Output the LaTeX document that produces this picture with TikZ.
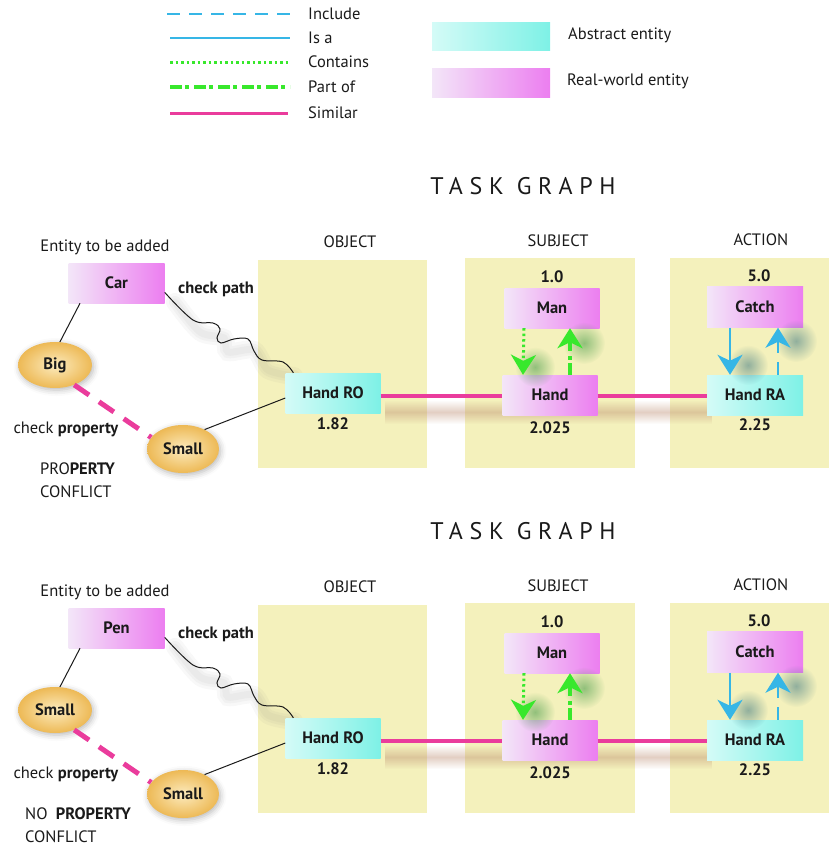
\documentclass[tikz,border=0pt]{standalone}
\usepackage{fontspec}
\setmainfont{PT Sans}
\usetikzlibrary{arrows.meta,shapes.geometric,shadows.blur,fadings}

\definecolor{ink}{HTML}{1A1A1A}
\definecolor{panelbg}{HTML}{F4F1BC}
\definecolor{cyanL}{HTML}{D4FBF7}
\definecolor{cyanR}{HTML}{7EF1E6}
\definecolor{magL}{HTML}{F3E6F8}
\definecolor{magR}{HTML}{EC7EF0}
\definecolor{propIn}{HTML}{FCEBBE}
\definecolor{propOut}{HTML}{EDB955}
\definecolor{cgreen}{HTML}{38E82C}
\definecolor{cblue}{HTML}{36B6E6}
\definecolor{cmag}{HTML}{EA3C9C}
\definecolor{shadebrown}{HTML}{B8866A}
\definecolor{glowgreen}{HTML}{2F8F3A}
\definecolor{glowblue}{HTML}{2F6F7F}

\tikzfading[name=softdot, inner color=transparent!0, outer color=transparent!100]
\tikzfading[name=softband, top color=transparent!100, bottom color=transparent!100, middle color=transparent!0]

\tikzset{
  txt/.style={font=\fontsize{16.5}{23}\selectfont, text=ink, inner sep=0pt},
  boldtxt/.style={txt, font=\fontsize{16.5}{23}\selectfont\bfseries},
  heading/.style={font=\fontsize{24}{28}\selectfont\addfontfeature{LetterSpace=28}, text=ink, inner sep=0pt},
  entbox/.style={rectangle, minimum width=95pt, minimum height=40pt, inner sep=0pt,
    font=\fontsize{16.5}{19}\selectfont\bfseries, text=ink},
  absbox/.style={entbox, left color=cyanL, right color=cyanR},
  realbox/.style={entbox, left color=magL, right color=magR},
  propnode/.style={ellipse, inner sep=0pt, inner color=propIn, outer color=propOut,
    font=\fontsize{16.5}{19}\selectfont\bfseries, text=ink,
    blur shadow={shadow xshift=1.5pt, shadow yshift=-2pt, shadow blur radius=6pt, shadow opacity=28}},
  include/.style={draw=cblue, line width=2.5pt, dash pattern=on 13pt off 9pt},
  isa/.style={draw=cblue, line width=2.5pt},
  contains/.style={draw=cgreen, line width=3pt, dash pattern=on 2.5pt off 3pt},
  partof/.style={draw=cgreen, line width=3.5pt, dash pattern=on 12pt off 3pt on 4pt off 5pt},
  similar/.style={draw=cmag, line width=4.5pt},
  simdash/.style={draw=cmag, line width=5pt, dash pattern=on 18pt off 12pt},
  link/.style={draw=ink, line width=1pt},
  bighead/.style={-{Stealth[length=20pt, width=25pt, inset=6pt]}},
  glow/.style={opacity=0.5, path fading=softdot},
}

% One task graph: #1 prefix, #2 vertical offset, #3 entity, #4 first property,
% #5 conflict text (first line), #6 x of the conflict text
\newcommand\taskpanel[6]{%
\begin{scope}[shift={(0,#2)}]
  % category panels
  \fill[panelbg] (258,260) rectangle (427,468);
  \fill[panelbg] (465,258) rectangle (635,468);
  \fill[panelbg] (670,258) rectangle (829,468);
  % soft shadows under the similarity line and the path
  \fill[shadebrown, opacity=0.4, path fading=softband] (385,400) rectangle (712,424);
  \foreach \w in {18,12,7}
    \draw[gray, line width=\w pt, opacity=0.06, line cap=round]
      plot[smooth] coordinates {(175,302) (200,332) (224,338) (228,352) (254,350) (268,370) (294,376)};

  \node[heading] (#1title) at (523,186) {TASK GRAPH};
  \node[txt] (#1objl) at (350,242) {OBJECT};
  \node[txt] (#1subl) at (558,241) {SUBJECT};
  \node[txt] (#1actl) at (761,240) {ACTION};
  \node[txt] (#1entl) at (105,247) {Entity to be added};

  \node[realbox, minimum width=96pt] (#1ent) at (116.5,283) {#3};
  \node[boldtxt] (#1cp) at (216,289) {check path};
  \node[propnode, minimum width=74pt, minimum height=46pt] (#1pa) at (55,365) {#4};
  \node[propnode, minimum width=72pt, minimum height=48pt] (#1pb) at (183,449) {Small};
  \node[txt] (#1chk) at (66,429) {check \textbf{property}};
  \node[txt, anchor=west, align=left] (#1conf) at (#6,480) {#5\\CONFLICT};

  \node[absbox] (#1ro) at (333,393) {Hand RO};
  \node[boldtxt] (#1rov) at (333,424) {1.82};

  \node[boldtxt] (#1manv) at (552,277) {1.0};
  \node[realbox] (#1man) at (552,308) {Man};
  \node[realbox] (#1hand) at (550,395) {Hand};
  \node[boldtxt] (#1handv) at (550,428) {2.025};

  \node[boldtxt] (#1catv) at (759,276) {5.0};
  \node[realbox, minimum width=96pt, minimum height=41pt] (#1cat) at (755,307) {Catch};
  \node[absbox, minimum width=96pt] (#1ra) at (755,395) {Hand RA};
  \node[boldtxt] (#1rav) at (755,425) {2.25};

  % blurred glows beside the arrow heads
  \fill[glowgreen, glow] (535,367) circle (20pt);
  \fill[glowgreen, glow] (584,343) circle (21pt);
  \fill[glowblue, glow] (748,365) circle (20pt);
  \fill[glowblue, glow] (796,341) circle (21pt);

  % connectors
  \draw[link] (#1ent.209) -- (#1pa.78);
  \draw[link] (#1pb.42) -- (#1ro.186);
  \draw[link] plot[smooth, tension=0.6] coordinates {(#1ent.349) (193,320) (213,323) (220,329)
      (217,338) (221,343) (234,339) (248,339) (254,351) (262,360) (283,362) (#1ro.153)};
  \draw[simdash] (#1pa.-46) -- (#1pb.160);
  \draw[similar] (#1ro.east |- 0,396) coordinate (#1s1) -- (#1hand.west |- #1s1);
  \draw[similar] (#1hand.east |- #1s1) -- (#1ra.west |- #1s1);

  \draw[contains, bighead] ([xshift=-28pt]#1man.south) -- ([xshift=-27pt]#1hand.north);
  \draw[partof, bighead] ([xshift=20pt]#1hand.north) -- ([xshift=18pt]#1man.south);
  \draw[isa, bighead] ([xshift=-25pt]#1cat.south) -- ([xshift=-25pt]#1ra.north);
  \draw[include, bighead] ([xshift=23pt]#1ra.north) -- ([xshift=23pt]#1cat.south);
\end{scope}}

\begin{document}
\begin{tikzpicture}[x=1pt, y=-1pt]
  \useasboundingbox (0,0) rectangle (829,846);

  % legend of link kinds
  \draw[include] (167,14) -- (290,14);
  \draw[isa] (170,38) -- (290,38);
  \draw[contains] (170,62) -- (288,62);
  \draw[partof] (170,87) -- (290,87);
  \draw[cmag, line width=3pt] (170,113) -- (288,113);
  \node[txt, anchor=west] (lgInc) at (308,14) {Include};
  \node[txt, anchor=west] (lgIsa) at (308,38) {Is a};
  \node[txt, anchor=west] (lgCon) at (308,62) {Contains};
  \node[txt, anchor=west] (lgPart) at (308,87) {Part of};
  \node[txt, anchor=west] (lgSim) at (308,113) {Similar};

  % legend of entity kinds
  \node[absbox, minimum width=118pt, minimum height=28pt] (lgAbs) at (491,36) {};
  \node[realbox, minimum width=118pt, minimum height=29pt] (lgReal) at (491,82.5) {};
  \node[txt, anchor=west] (lgAbsT) at (568,35) {Abstract entity};
  \node[txt, anchor=west] (lgRealT) at (567,81) {Real-world entity};

  \taskpanel{t}{0}{Car}{Big}{PRO\textbf{PERTY}}{40}
  \taskpanel{b}{345}{Pen}{Small}{NO\enspace\textbf{PROPERTY}}{25}
\end{tikzpicture}
\end{document}
